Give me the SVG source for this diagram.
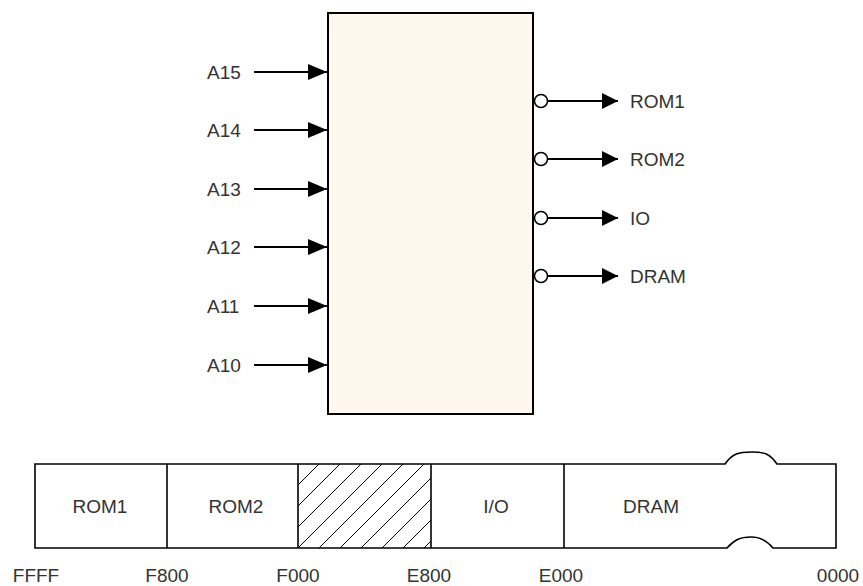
<svg xmlns="http://www.w3.org/2000/svg" width="863" height="586" viewBox="0 0 863 586">
<style>
.lbl{font-family:"Liberation Sans",Arial,sans-serif;font-size:19px;fill:#333}
.ln{stroke:#000;stroke-width:2;fill:none}
.thin{stroke:#000;stroke-width:1.6;fill:none}
.bub{stroke:#000;stroke-width:1.5;fill:#fff}
</style>
<defs>
<marker id="ain" markerUnits="userSpaceOnUse" markerWidth="20" markerHeight="18" refX="19" refY="8" orient="auto"><path d="M0,0 L19,8 L0,16 Z" fill="#000"/></marker>
<marker id="aout" markerUnits="userSpaceOnUse" markerWidth="18" markerHeight="18" refX="16" refY="8" orient="auto"><path d="M0,0 L16,8 L0,16 Z" fill="#000"/></marker>
<clipPath id="hclip"><rect x="298" y="464" width="133" height="84"/></clipPath>
</defs>
<rect width="863" height="586" fill="#fff"/>
<g id="decoder">
<rect x="328" y="13" width="205" height="401" fill="#fdf7ec" stroke="#000" stroke-width="2"/>
</g>
<g id="connectors">
<line class="ln" x1="254" y1="72" x2="327" y2="72" marker-end="url(#ain)"/>
<line class="ln" x1="254" y1="130" x2="327" y2="130" marker-end="url(#ain)"/>
<line class="ln" x1="254" y1="189" x2="327" y2="189" marker-end="url(#ain)"/>
<line class="ln" x1="254" y1="247" x2="327" y2="247" marker-end="url(#ain)"/>
<line class="ln" x1="254" y1="306" x2="327" y2="306" marker-end="url(#ain)"/>
<line class="ln" x1="254" y1="365" x2="327" y2="365" marker-end="url(#ain)"/>
<line class="ln" x1="548" y1="101" x2="618" y2="101" marker-end="url(#aout)"/>
<line class="ln" x1="548" y1="159" x2="618" y2="159" marker-end="url(#aout)"/>
<line class="ln" x1="548" y1="218" x2="618" y2="218" marker-end="url(#aout)"/>
<line class="ln" x1="548" y1="276" x2="618" y2="276" marker-end="url(#aout)"/>
<circle class="bub" cx="541" cy="101" r="6.5"/>
<circle class="bub" cx="541" cy="159" r="6.5"/>
<circle class="bub" cx="541" cy="218" r="6.5"/>
<circle class="bub" cx="541" cy="276" r="6.5"/>
</g>
<g id="inputs">
<text class="lbl" x="207" y="79">A15</text>
<text class="lbl" x="207" y="137">A14</text>
<text class="lbl" x="207" y="196">A13</text>
<text class="lbl" x="207" y="254">A12</text>
<text class="lbl" x="207" y="313">A11</text>
<text class="lbl" x="207" y="372">A10</text>
</g>
<g id="outputs">
<text class="lbl" x="630" y="108">ROM1</text>
<text class="lbl" x="630" y="166">ROM2</text>
<text class="lbl" x="630" y="225">IO</text>
<text class="lbl" x="630" y="283">DRAM</text>
</g>
<g id="memory-map">
<g clip-path="url(#hclip)" stroke="#000" stroke-width="1">
<line x1="193" y1="548" x2="277" y2="464"/>
<line x1="214" y1="548" x2="298" y2="464"/>
<line x1="235" y1="548" x2="319" y2="464"/>
<line x1="256" y1="548" x2="340" y2="464"/>
<line x1="277" y1="548" x2="361" y2="464"/>
<line x1="298" y1="548" x2="382" y2="464"/>
<line x1="319" y1="548" x2="403" y2="464"/>
<line x1="340" y1="548" x2="424" y2="464"/>
<line x1="361" y1="548" x2="445" y2="464"/>
<line x1="382" y1="548" x2="466" y2="464"/>
<line x1="403" y1="548" x2="487" y2="464"/>
<line x1="424" y1="548" x2="508" y2="464"/>
</g>
<path class="thin" d="M35,464 H725 C732,454 738,452 752,452 C765,452 770,454 777,464 H836 V548 H773 C766,540 760,537 751,537 C740,537 734,540 727,548 H35 Z"/>
<line class="thin" x1="167" y1="464" x2="167" y2="548"/>
<line class="thin" x1="298" y1="464" x2="298" y2="548"/>
<line class="thin" x1="431" y1="464" x2="431" y2="548"/>
<line class="thin" x1="564" y1="464" x2="564" y2="548"/>
<text class="lbl" x="100" y="513" text-anchor="middle">ROM1</text>
<text class="lbl" x="236" y="513" text-anchor="middle">ROM2</text>
<text class="lbl" x="496" y="513" text-anchor="middle">I/O</text>
<text class="lbl" x="651" y="513" text-anchor="middle">DRAM</text>
<text class="lbl" x="36" y="582" text-anchor="middle">FFFF</text>
<text class="lbl" x="167" y="582" text-anchor="middle">F800</text>
<text class="lbl" x="298" y="582" text-anchor="middle">F000</text>
<text class="lbl" x="429" y="582" text-anchor="middle">E800</text>
<text class="lbl" x="561" y="582" text-anchor="middle">E000</text>
<text class="lbl" x="838" y="582" text-anchor="middle">0000</text>
</g>
</svg>
